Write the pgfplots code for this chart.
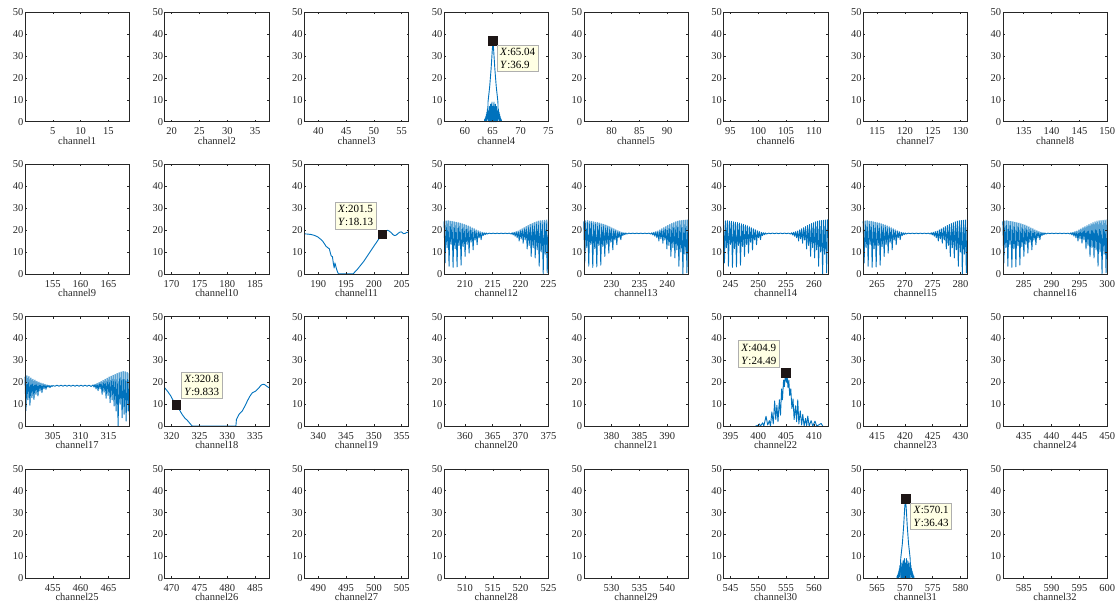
\documentclass[border=0pt]{standalone}
\usepackage{fontspec}
\setmainfont{Liberation Serif}
\usepackage{pgfplots}
\usepackage{pgfplotstable}
\pgfplotsset{compat=1.18}
\definecolor{mblue}{RGB}{0,114,189}
\definecolor{axc}{RGB}{38,38,38}
\definecolor{tipfill}{RGB}{255,255,228}
\definecolor{tipdraw}{RGB}{175,175,175}
\definecolor{tipmark}{RGB}{30,22,22}

\pgfplotstableread[row sep=\\]{
x y\\
0.00 24.0\\ 0.18 5.0\\ 0.36 24.2\\ 0.54 12.0\\ 0.72 24.3\\ 0.90 3.5\\
1.08 24.1\\ 1.26 13.5\\ 1.44 24.0\\ 1.62 3.0\\ 1.80 23.8\\ 1.98 11.5\\
2.16 23.6\\ 2.34 3.2\\ 2.52 23.4\\ 2.70 13.0\\ 2.88 23.2\\ 3.06 4.0\\
3.24 22.9\\ 3.42 12.5\\ 3.60 22.6\\ 3.78 8.0\\ 3.96 22.3\\ 4.14 13.5\\
4.32 21.9\\ 4.50 9.5\\ 4.68 21.5\\ 4.86 14.5\\ 5.04 21.0\\ 5.22 11.0\\
5.40 20.6\\ 5.58 15.5\\ 5.76 20.1\\ 5.94 13.3\\ 6.12 19.7\\ 6.30 16.5\\
6.48 19.3\\ 6.66 15.6\\ 6.84 19.0\\ 7.02 17.5\\ 7.20 18.8\\ 7.38 17.9\\
7.56 18.7\\ 7.74 18.2\\ 8.10 18.6\\ 8.46 18.4\\ 8.82 18.6\\ 9.18 18.4\\
9.54 18.6\\ 9.90 18.4\\ 10.26 18.6\\ 10.62 18.4\\ 10.98 18.6\\ 11.34 18.4\\
11.70 18.6\\ 12.06 18.2\\ 12.24 18.8\\ 12.42 17.8\\ 12.60 19.0\\ 12.78 17.2\\
12.96 19.3\\ 13.14 16.5\\ 13.32 19.6\\ 13.50 15.0\\ 13.68 20.1\\ 13.86 16.0\\
14.04 20.6\\ 14.22 14.0\\ 14.40 21.1\\ 14.58 15.5\\ 14.76 21.6\\ 14.94 11.4\\
15.12 22.1\\ 15.30 13.0\\ 15.48 22.6\\ 15.66 8.0\\ 15.84 23.0\\ 16.02 12.0\\
16.20 23.4\\ 16.38 7.3\\ 16.56 23.8\\ 16.74 11.0\\ 16.92 24.1\\ 17.10 3.5\\
17.28 24.3\\ 17.46 10.0\\ 17.64 24.4\\ 17.82 0.0\\ 18.00 24.5\\ 18.18 9.0\\
18.36 24.6\\ 18.54 0.5\\ 18.72 24.7\\ 18.75 17.0\\
}\patt

\tikzset{tipbox/.style={fill=tipfill, draw=tipdraw, line width=0.5pt, text=black,
  font=\fontsize{11}{13}\selectfont, align=left, inner sep=3pt}}
\pgfplotsset{
 chanax/.style={scale only axis, width=104.3pt, height=109.5pt, anchor=south west,
  ymin=0, ymax=50, ytick={0,10,...,50}, xtick distance=5,
  tick align=inside, major tick length=2pt, axis on top,
  axis line style={axc, line width=0.6pt}, every tick/.style={axc, line width=0.5pt},
  tick label style={font=\fontsize{10.5}{12}\selectfont, text=axc},
  /pgf/number format/assume math mode=true,
  xticklabel style={inner sep=1pt, yshift=-5pt}, yticklabel style={inner sep=1.5pt},
  xlabel style={font=\fontsize{10.5}{12}\selectfont, text=axc, inner sep=0pt,
   at={(axis description cs:0.5,0)}, anchor=north, yshift=-15pt},
  clip=false},
 sig/.style={mblue, line width=0.9pt, line join=round, no marks},
}

\newcommand{\tip}[2]{\textit{X}:#1\\\textit{Y}:#2}

\newcommand{\chan}[4]{%
 \pgfmathsetmacro\xa{(#1-1)*18.75+0.01}%
 \pgfmathsetmacro\xb{#1*18.75+0.001}%
 \pgfmathsetmacro\px{25+139.7*#2}%
 \pgfmathsetmacro\py{486.3-152.2*#3}%
 \begin{axis}[chanax, at={(\px pt,\py pt)}, xmin=\xa, xmax=\xb, xlabel={channel#1}]
 #4
 \end{axis}}

\begin{document}
\begin{tikzpicture}
\path[use as bounding box] (0,0) rectangle (1118pt,608pt);
\chan{1}{0}{0}{}
\chan{2}{1}{0}{}
\chan{3}{2}{0}{}
\chan{4}{3}{0}{
 \addplot[sig] coordinates {(63.50,0)(63.55,1.0)(63.60,0.1)(63.65,1.6)(63.70,0.2)(63.75,2.4)(63.80,0.3)(63.85,3.3)(63.90,0.5)(63.95,4.4)(64.00,0.8)(64.05,5.8)(64.10,1.5)(64.15,9.0)(64.45,16)(64.70,24)(64.90,32)(65.04,36.9)(65.18,32)(65.38,24)(65.63,16)(65.93,9.0)(65.98,1.5)(66.03,5.8)(66.08,0.8)(66.13,4.4)(66.18,0.5)(66.23,3.3)(66.28,0.3)(66.33,2.4)(66.38,0.2)(66.43,1.6)(66.48,0.1)(66.53,1.0)(66.58,0)};
 \addplot[sig] coordinates {(64.20,0)(64.26,5)(64.32,0)(64.38,7)(64.44,0)(64.50,6)(64.56,0)(64.62,8)(64.68,0)(64.74,6)(64.80,0)(64.86,9)(64.92,0)(64.98,7)(65.04,0)(65.10,7)(65.16,0)(65.22,9)(65.28,0)(65.34,6)(65.40,0)(65.46,8)(65.52,0)(65.58,6)(65.64,0)(65.70,7)(65.76,0)(65.82,5)(65.88,0)};
 \addplot[only marks, mark=square*, mark size=4.3pt, tipmark, nodes near coords={\tip{65.04}{36.9}},
  every node near coord/.style={tipbox, anchor=north west, xshift=4pt, yshift=-4pt}] coordinates {(65.04,36.9)};
}
\chan{5}{4}{0}{}
\chan{6}{5}{0}{}
\chan{7}{6}{0}{}
\chan{8}{7}{0}{}
\chan{9}{0}{1}{}
\chan{10}{1}{1}{}
\chan{11}{2}{1}{
 \addplot[sig] coordinates {(187.5,18.3)(188.0,18.2)(188.7,18.0)(189.3,17.6)(189.9,16.9)(190.4,15.9)(190.8,14.9)(191.1,13.8)(191.4,12.6)(191.7,12.0)(192.0,11.4)(192.15,9.8)(192.3,8.4)(192.55,7.8)(192.7,5.0)(192.86,2.7)(193.0,5.0)(193.1,4.0)(193.27,2.3)(193.45,1.0)(193.63,0)(196.25,0)(197.0,2.0)(197.6,3.9)(198.2,5.8)(198.8,8.1)(199.4,10.4)(200.0,12.7)(200.6,14.9)(201.0,16.4)(201.5,18.13)(201.9,19.2)(202.2,19.8)(202.5,19.9)(202.8,19.5)(203.1,18.8)(203.4,18.0)(203.7,17.5)(204.0,17.7)(204.3,18.4)(204.6,19.0)(204.9,19.2)(205.1,18.9)(205.3,18.4)(205.6,18.5)(205.8,18.8)(206.0,19.0)(206.25,19.0)};
 \addplot[only marks, mark=square*, mark size=4.3pt, tipmark, nodes near coords={\tip{201.5}{18.13}},
  every node near coord/.style={tipbox, anchor=south east, xshift=-6pt, yshift=5pt}] coordinates {(201.5,18.13)};
}
\chan{12}{3}{1}{\addplot[sig] table[x expr=\thisrow{x}+206.25, y=y]{\patt};}
\chan{13}{4}{1}{\addplot[sig] table[x expr=\thisrow{x}+225, y=y]{\patt};}
\chan{14}{5}{1}{\addplot[sig] table[x expr=\thisrow{x}+243.75, y=y]{\patt};}
\chan{15}{6}{1}{\addplot[sig] table[x expr=\thisrow{x}+262.5, y=y]{\patt};}
\chan{16}{7}{1}{\addplot[sig] table[x expr=\thisrow{x}+281.25, y=y]{\patt};}
\chan{17}{0}{2}{
 \addplot[sig] coordinates {(300.00,22.5)(300.18,7.0)(300.36,23.0)(300.54,12.0)(300.72,22.6)(300.90,9.5)(301.08,22.0)(301.26,13.0)(301.44,21.4)(301.62,12.2)(301.80,21.0)(301.98,14.5)(302.16,20.5)(302.34,13.8)(302.52,20.1)(302.70,16.0)(302.88,19.7)(303.06,15.3)(303.24,19.4)(303.42,17.0)(303.60,19.1)(303.78,16.8)(303.96,18.8)(304.14,17.8)(304.32,18.6)(304.50,17.6)(304.68,18.5)(304.86,18.1)(305.04,18.5)(305.40,18.2)(305.76,18.7)(306.12,18.2)(306.48,18.7)(306.84,18.2)(307.20,18.7)(307.56,18.2)(307.92,18.7)(308.28,18.2)(308.64,18.7)(309.00,18.2)(309.36,18.7)(309.72,18.2)(310.08,18.7)(310.44,18.2)(310.80,18.7)(311.16,18.2)(311.52,18.7)(311.88,18.1)(312.24,18.8)(312.42,17.8)(312.60,19.1)(312.78,17.0)(312.96,19.5)(313.14,16.2)(313.32,19.9)(313.50,17.0)(313.68,20.4)(313.86,14.5)(314.04,20.9)(314.22,15.5)(314.40,21.4)(314.58,12.7)(314.76,21.9)(314.94,14.0)(315.12,22.4)(315.30,10.7)(315.48,22.8)(315.66,12.0)(315.84,23.2)(316.02,9.2)(316.20,23.6)(316.38,6.9)(316.56,24.0)(316.74,0.0)(316.92,24.4)(317.10,10.0)(317.28,24.7)(317.46,3.8)(317.64,24.9)(317.82,5.4)(318.00,24.8)(318.18,2.3)(318.36,24.5)(318.54,6.9)(318.72,24.0)(318.75,5.0)};
}
\chan{18}{1}{2}{
 \addplot[sig] coordinates {(318.75,17.5)(319.3,15.8)(319.8,14.0)(320.3,11.6)(320.8,9.833)(321.3,7.9)(321.9,5.3)(322.4,3.6)(322.8,2.7)(323.2,1.5)(323.7,0)(331.55,0)(331.65,3.0)(332.1,5.3)(332.4,6.2)(332.7,6.9)(333.2,9.3)(333.6,11.4)(334.0,13.4)(334.5,15.2)(335.1,16.0)(335.7,17.5)(336.0,18.5)(336.3,19.0)(336.6,19.1)(336.9,18.6)(337.2,18.0)(337.5,17.5)};
 \addplot[only marks, mark=square*, mark size=4.3pt, tipmark, nodes near coords={\tip{320.8}{9.833}},
  every node near coord/.style={tipbox, anchor=south west, xshift=5pt, yshift=6pt}] coordinates {(320.8,9.833)};
}
\chan{19}{2}{2}{}
\chan{20}{3}{2}{}
\chan{21}{4}{2}{}
\chan{22}{5}{2}{
 \addplot[sig] coordinates {(399.5,0)(399.9,0.3)(400.2,1.0)(400.4,0)(400.8,1.5)(401.0,0)(401.4,4.5)(401.7,0.5)(402.0,2.5)(402.2,0)(402.45,6.5)(402.7,1.0)(402.95,11.5)(403.15,3)(403.35,9.5)(403.55,2)(403.8,12)(404.0,5)(404.2,17)(404.35,12)(404.55,21)(404.7,18)(404.9,24.49)(405.05,20)(405.2,22.5)(405.35,17.5)(405.5,21)(405.65,14)(405.85,17)(406.05,8)(406.25,12.4)(406.45,3)(406.7,9.3)(406.9,2)(407.1,12.0)(407.3,1)(407.55,7)(407.8,0.5)(408.0,5.4)(408.25,0)(408.5,3.5)(408.7,0)(408.9,4.6)(409.15,0)(409.5,2.5)(409.8,0)(410.2,2.3)(410.5,0)(411.3,1.2)(411.6,0)};
 \addplot[only marks, mark=square*, mark size=4.3pt, tipmark, nodes near coords={\tip{404.9}{24.49}},
  every node near coord/.style={tipbox, anchor=south east, xshift=-6pt, yshift=5pt}] coordinates {(404.9,24.49)};
}
\chan{23}{6}{2}{}
\chan{24}{7}{2}{}
\chan{25}{0}{3}{}
\chan{26}{1}{3}{}
\chan{27}{2}{3}{}
\chan{28}{3}{3}{}
\chan{29}{4}{3}{}
\chan{30}{5}{3}{}
\chan{31}{6}{3}{
 \addplot[sig] coordinates {(568.56,0)(568.61,1.0)(568.66,0.1)(568.71,1.6)(568.76,0.2)(568.81,2.4)(568.86,0.3)(568.91,3.3)(568.96,0.5)(569.01,4.4)(569.06,0.8)(569.11,5.8)(569.16,1.5)(569.25,9.0)(569.55,16)(569.78,24)(569.96,32)(570.1,36.43)(570.24,32)(570.42,24)(570.65,16)(570.95,9.0)(571.04,1.5)(571.09,5.8)(571.14,0.8)(571.19,4.4)(571.24,0.5)(571.29,3.3)(571.34,0.3)(571.39,2.4)(571.44,0.2)(571.49,1.6)(571.54,0.1)(571.59,1.0)(571.64,0)};
 \addplot[sig] coordinates {(569.26,0)(569.32,5)(569.38,0)(569.44,7)(569.50,0)(569.56,6)(569.62,0)(569.68,8)(569.74,0)(569.80,6)(569.86,0)(569.92,9)(569.98,0)(570.04,7)(570.10,0)(570.16,7)(570.22,0)(570.28,9)(570.34,0)(570.40,6)(570.46,0)(570.52,8)(570.58,0)(570.64,6)(570.70,0)(570.76,7)(570.82,0)(570.88,5)(570.94,0)};
 \addplot[only marks, mark=square*, mark size=4.3pt, tipmark, nodes near coords={\tip{570.1}{36.43}},
  every node near coord/.style={tipbox, anchor=north west, xshift=5pt, yshift=-4pt}] coordinates {(570.1,36.43)};
}
\chan{32}{7}{3}{}
\end{tikzpicture}
\end{document}
